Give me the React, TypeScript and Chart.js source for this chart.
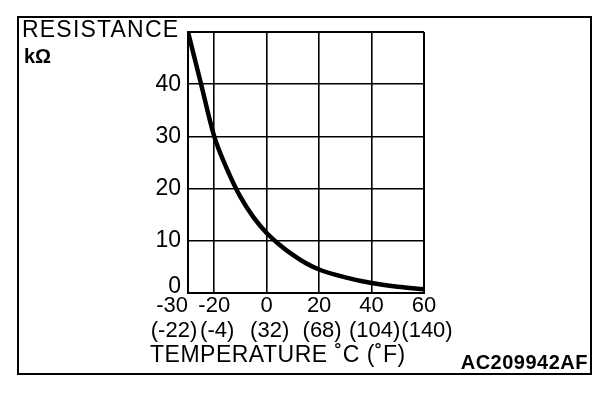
import React, { useEffect, useRef } from "react";
import { Chart, registerables } from "chart.js";

Chart.register(...registerables);

const TEMPS_C = [-30, -25, -20, -15, -10, -5, 0, 5, 10, 15, 20, 30, 40, 50, 60];
const RESISTANCE_KOHM = [50, 40, 30, 23.6, 18.4, 14.5, 11.5, 9.2, 7.3, 5.7, 4.5, 3.0, 1.9, 1.2, 0.7];
const X_TICKS = [-30, -20, 0, 20, 40, 60];
const X_TICK_LABELS_C = ["-30", "-20", "0", "20", "40", "60"];
const X_TICK_LABELS_F = ["(-22)", "(-4)", "(32)", "(68)", "(104)", "(140)"];
const Y_TICKS = [0, 10, 20, 30, 40];
const Y_LABEL = "RESISTANCE";
const Y_UNIT = "kΩ";
const X_LABEL = "TEMPERATURE ˚C (˚F)";
const CODE = "AC209942AF";

const FONT = '"Liberation Sans", Arial, sans-serif';

function drawText(
  ctx: CanvasRenderingContext2D,
  text: string,
  x: number,
  y: number,
  size: number,
  align: CanvasTextAlign,
  bold = false,
  spacing = 0
) {
  ctx.save();
  ctx.font = `${bold ? "bold " : ""}${size}px ${FONT}`;
  (ctx as any).letterSpacing = `${spacing}px`;
  ctx.textAlign = align;
  ctx.textBaseline = "middle";
  ctx.fillStyle = "#000";
  ctx.fillText(text, x, y);
  ctx.restore();
}

const decorPlugin = {
  id: "decor",
  afterDraw(chart: any) {
    const ctx = chart.ctx as CanvasRenderingContext2D;
    const xs = chart.scales.x;
    const ys = chart.scales.y;
    // outer frame
    ctx.save();
    ctx.strokeStyle = "#000";
    ctx.lineWidth = 2;
    ctx.strokeRect(18, 17, 573, 357);
    ctx.restore();

    drawText(ctx, Y_LABEL, 22, 31, 23, "left", false, 1.2);
    drawText(ctx, Y_UNIT, 24, 57, 20, "left", true);

    Y_TICKS.forEach((v) => {
      const py = ys.getPixelForValue(v);
      drawText(ctx, String(v), 181, v === 0 ? py - 6 : py, 23, "right");
    });

    X_TICKS.forEach((v, i) => {
      const px = xs.getPixelForValue(v);
      if (i === 0) {
        drawText(ctx, X_TICK_LABELS_C[i], px, 306, 22, "right");
        drawText(ctx, X_TICK_LABELS_F[i], px - 14, 331, 22, "center");
      } else {
        drawText(ctx, X_TICK_LABELS_C[i], px, 306, 22, "center");
        drawText(ctx, X_TICK_LABELS_F[i], px + 3, 331, 22, "center");
      }
    });

    drawText(ctx, X_LABEL, 150, 356, 23, "left", false, 0.5);
    drawText(ctx, CODE, 588, 363, 20, "right", true, 0.5);
  },
};

export default function App() {
  const ref = useRef<HTMLCanvasElement | null>(null);

  useEffect(() => {
    if (!ref.current) return;
    const chart = new Chart(ref.current, {
      type: "line",
      data: {
        datasets: [
          {
            data: TEMPS_C.map((t, i) => ({ x: t, y: RESISTANCE_KOHM[i] })),
            borderColor: "#000",
            borderWidth: 4.5,
            pointRadius: 0,
            cubicInterpolationMode: "monotone",
            fill: false,
          },
        ],
      },
      options: {
        animation: false,
        responsive: false,
        devicePixelRatio: 1,
        layout: { padding: { left: 188, top: 32, right: 184, bottom: 103 } },
        plugins: { legend: { display: false }, tooltip: { enabled: false } },
        scales: {
          x: {
            type: "linear",
            min: -30,
            max: 60,
            afterBuildTicks: (s: any) => {
              s.ticks = X_TICKS.map((v) => ({ value: v }));
            },
            afterFit: (s: any) => {
              s.height = 0;
            },
            ticks: { display: false },
            grid: {
              color: "#000",
              lineWidth: (c: any) => (c.tick && (c.tick.value === 60 || c.tick.value === -30) ? 2 : 1.6),
              drawTicks: false,
            },
            border: { display: true, color: "#000", width: 2 },
          },
          y: {
            type: "linear",
            min: 0,
            max: 50,
            ticks: { display: false, stepSize: 10 },
            afterFit: (s: any) => {
              s.width = 0;
            },
            grid: {
              color: "#000",
              lineWidth: (c: any) => (c.tick && (c.tick.value === 50 || c.tick.value === 0) ? 2 : 1.6),
              drawTicks: false,
            },
            border: { display: true, color: "#000", width: 2 },
          },
        },
      },
      plugins: [decorPlugin],
    });
    return () => chart.destroy();
  }, []);

  return (
    <div style={{ position: "fixed", left: 0, top: 0, width: 608, height: 396, background: "#fff" }}>
      <canvas ref={ref} width={608} height={396} style={{ width: 608, height: 396, display: "block" }} />
    </div>
  );
}
